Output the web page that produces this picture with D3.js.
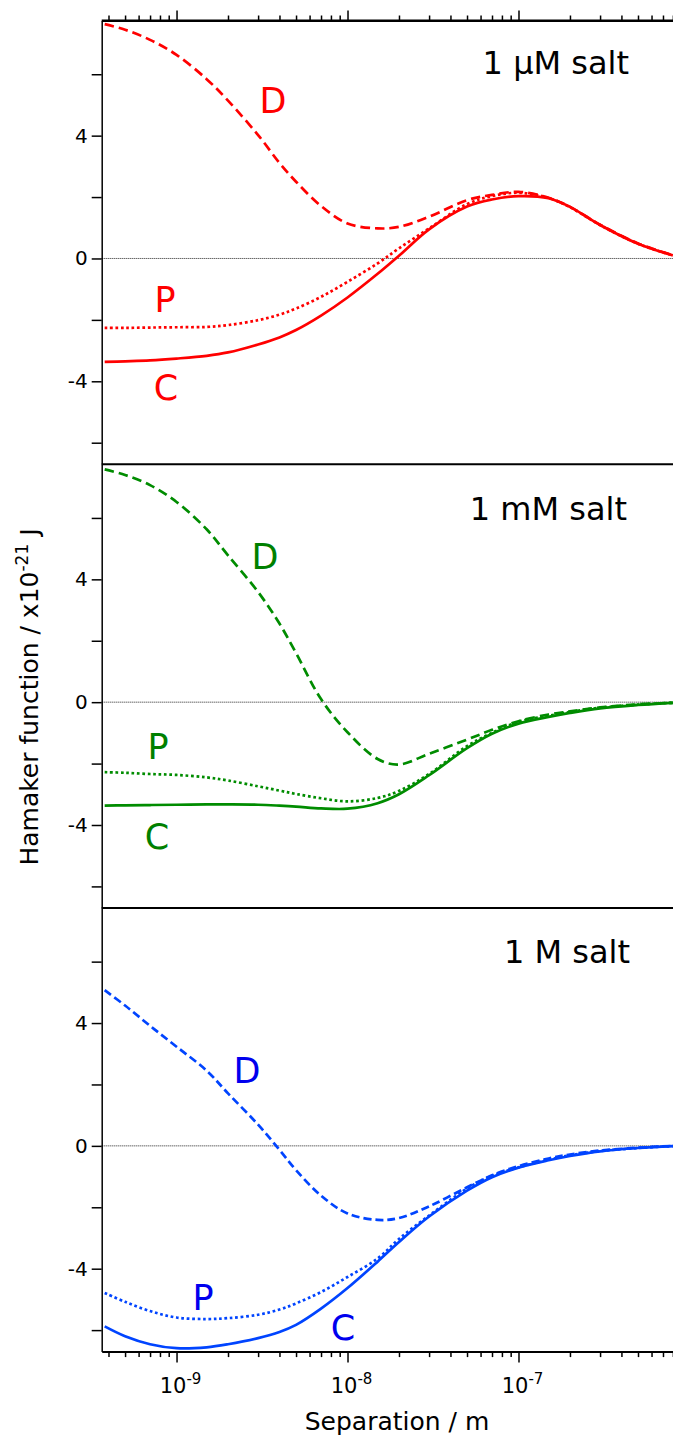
<!DOCTYPE html>
<html>
<head>
<meta charset="utf-8">
<script src="https://cdn.jsdelivr.net/npm/d3@7"></script>
<style>
  body { margin: 0; background: #fff; }
  text { font-family: "DejaVu Sans", sans-serif; }
</style>
</head>
<body>
<div id="chart"></div>
<script>
// separation / m
var separation = [3.8e-10, 5e-10, 7e-10, 1e-9, 1.5e-9, 2e-9, 3e-9, 4e-9, 5e-9, 7e-9,
  1e-8, 1.5e-8, 2e-8, 3e-8, 5e-8, 7e-8, 1e-7, 1.5e-7, 2e-7, 3e-7, 5e-7, 8e-7];

// Hamaker function / 1e-21 J
var microD = [7.63, 7.45, 7.12, 6.63, 5.84, 5.14, 4.02, 3.11, 2.50, 1.71, 1.14, 0.98, 1.03, 1.36, 1.90, 2.07, 2.17, 1.98, 1.68, 1.10, 0.49, 0.11];
var microP = [-2.26, -2.26, -2.25, -2.24, -2.23, -2.17, -2.01, -1.83, -1.63, -1.25, -0.76, -0.16, 0.33, 0.98, 1.77, 2.03, 2.14, 1.97, 1.67, 1.09, 0.48, 0.10];
var microC = [-3.37, -3.35, -3.32, -3.26, -3.17, -3.06, -2.80, -2.57, -2.33, -1.86, -1.27, -0.50, 0.09, 0.95, 1.69, 1.92, 2.03, 1.96, 1.68, 1.09, 0.48, 0.10];

var milliD = [7.58, 7.40, 7.07, 6.52, 5.63, 4.78, 3.59, 2.56, 1.60, 0.10, -0.98, -1.85, -2.03, -1.68, -1.22, -0.90, -0.62, -0.40, -0.30, -0.17, -0.07, -0.02];
var milliP = [-2.28, -2.30, -2.34, -2.37, -2.45, -2.55, -2.74, -2.88, -2.99, -3.13, -3.23, -3.12, -2.89, -2.34, -1.43, -1.00, -0.64, -0.44, -0.32, -0.18, -0.08, -0.02];
var milliC = [-3.37, -3.36, -3.35, -3.34, -3.33, -3.33, -3.34, -3.37, -3.40, -3.46, -3.47, -3.29, -3.00, -2.38, -1.50, -1.03, -0.70, -0.48, -0.35, -0.20, -0.09, -0.02];

var molarD = [5.07, 4.57, 3.91, 3.23, 2.45, 1.71, 0.69, -0.13, -0.79, -1.62, -2.20, -2.41, -2.35, -1.97, -1.35, -0.96, -0.66, -0.41, -0.28, -0.15, -0.06, 0.00];
var molarP = [-4.79, -5.08, -5.38, -5.59, -5.64, -5.61, -5.50, -5.33, -5.13, -4.76, -4.27, -3.67, -3.03, -2.27, -1.39, -0.97, -0.70, -0.45, -0.31, -0.17, -0.07, -0.01];
var molarC = [-5.88, -6.20, -6.46, -6.59, -6.56, -6.46, -6.26, -6.06, -5.83, -5.30, -4.63, -3.77, -3.13, -2.30, -1.46, -1.02, -0.71, -0.47, -0.33, -0.18, -0.07, -0.01];

var panelTitles = ["1 \u00b5M salt", "1 mM salt", "1 M salt"];
var yTicks = [-6, -4, -2, 0, 2, 4, 6];
var yLabelled = [-4, 0, 4];
var xMajor = [1e-9, 1e-8, 1e-7];
var xMajorExp = ["-9", "-8", "-7"];

(function() {
  var panels = [
    { title: panelTitles[0], D: microD, P: microP, C: microC, line: "#ff0000", label: "#ff0000",
      pos: { D: [273, 113], P: [165, 312], C: [166, 400], t: [629, 74] } },
    { title: panelTitles[1], D: milliD, P: milliP, C: milliC, line: "#008c00", label: "#008000",
      pos: { D: [265, 569], P: [158, 759], C: [157, 849], t: [627, 520] } },
    { title: panelTitles[2], D: molarD, P: molarP, C: molarC, line: "#0044ff", label: "#0000ee",
      pos: { D: [247, 1083], P: [203, 1310], C: [343, 1340], t: [630, 963] } }
  ];

  var width = 673, height = 1437;
  var plotLeft = 101.7, plotRight = 672.9, plotTop = 20.5, panelH = 443.7;

  var svg = d3.select("#chart").append("svg")
    .attr("width", width)
    .attr("height", height);

  var x = d3.scaleLog()
    .domain([3.65e-10, 8e-7])
    .range([plotLeft, plotRight]);

  var xTicks = x.ticks();

  panels.forEach(function(p, i) {
    var y0 = plotTop + i * panelH;
    var y = d3.scaleLinear()
      .domain([-6.7, 7.75])
      .range([y0 + panelH, y0]);

    var g = svg.append("g");

    // zero line
    g.append("line")
      .attr("x1", plotLeft).attr("x2", width)
      .attr("y1", y(0)).attr("y2", y(0))
      .attr("stroke", "#222")
      .attr("stroke-width", 1)
      .attr("stroke-dasharray", "1,1");

    // Y axis
    g.append("g")
      .attr("transform", "translate(" + plotLeft + ",0)")
      .call(d3.axisLeft(y).tickValues(yTicks).tickSize(10).tickSizeOuter(0).tickPadding(4)
        .tickFormat(function(d) { return yLabelled.indexOf(d) >= 0 ? String(d) : ""; }))
      .call(function(a) {
        a.select(".domain").attr("stroke-width", 1.5);
        a.selectAll(".tick line").attr("stroke-width", 1.5);
        a.selectAll("text").attr("font-size", 20).attr("font-family", "DejaVu Sans").attr("fill", "#000");
      });

    // panel top border
    g.append("line")
      .attr("x1", plotLeft).attr("x2", width)
      .attr("y1", y0).attr("y2", y0)
      .attr("stroke", "#000")
      .attr("stroke-width", 2);

    var line = function(vals) {
      return d3.line()
        .x(function(d, k) { return x(separation[k]); })
        .y(function(d) { return y(d); })
        .curve(d3.curveCatmullRom.alpha(0.5))(vals);
    };

    // C solid, P dotted, D dashed
    g.append("path").attr("d", line(p.C))
      .attr("fill", "none").attr("stroke", p.line).attr("stroke-width", 2.7);
    g.append("path").attr("d", line(p.P))
      .attr("fill", "none").attr("stroke", p.line).attr("stroke-width", 2.7)
      .attr("stroke-dasharray", "2.7,2.7");
    g.append("path").attr("d", line(p.D))
      .attr("fill", "none").attr("stroke", p.line).attr("stroke-width", 2.7)
      .attr("stroke-dasharray", i == 2 ? "8,4" : "9.5,5");

    ["D", "P", "C"].forEach(function(k) {
      g.append("text")
        .attr("x", p.pos[k][0]).attr("y", p.pos[k][1])
        .attr("text-anchor", "middle")
        .attr("font-size", 35)
        .attr("fill", p.label)
        .text(k);
    });

    g.append("text")
      .attr("x", p.pos.t[0]).attr("y", p.pos.t[1])
      .attr("text-anchor", "end")
      .attr("font-size", 32)
      .attr("fill", "#000")
      .text(p.title);
  });

  var plotBottom = plotTop + 3 * panelH;

  function styleX(a) {
    a.select(".domain").attr("stroke-width", 2);
    a.selectAll(".tick line").attr("stroke-width", 1.5);
    a.selectAll(".tick").filter(function(d) { return xMajor.indexOf(d) < 0; })
      .select("line").attr("y2", function() { return +d3.select(this).attr("y2") / 2; });
  }

  // X axes, top and bottom
  svg.append("g")
    .attr("transform", "translate(0," + plotTop + ")")
    .call(d3.axisTop(x).tickValues(xTicks).tickSize(10).tickSizeOuter(0).tickFormat(""))
    .call(styleX);

  svg.append("g")
    .attr("transform", "translate(0," + plotBottom + ")")
    .call(d3.axisBottom(x).tickValues(xTicks).tickSize(11).tickSizeOuter(0).tickFormat(""))
    .call(styleX);

  // x tick labels with superscripts
  xMajor.forEach(function(v, i) {
    var t = svg.append("text")
      .attr("x", x(v) + 4).attr("y", plotBottom + 41)
      .attr("text-anchor", "middle")
      .attr("font-size", 21);
    t.append("tspan").text("10");
    t.append("tspan").attr("font-size", 15).attr("dy", -9).text(xMajorExp[i]);
  });

  svg.append("text")
    .attr("x", 397).attr("y", 1430)
    .attr("text-anchor", "middle")
    .attr("font-size", 25)
    .text("Separation / m");

  var yl = svg.append("text")
    .attr("transform", "translate(38,697) rotate(-90)")
    .attr("text-anchor", "middle")
    .attr("font-size", 25);
  yl.append("tspan").text("Hamaker function / x10");
  yl.append("tspan").attr("font-size", 17).attr("dy", -10).text("-21");
  yl.append("tspan").attr("dy", 10).text(" J");
})();
</script>
</body>
</html>
